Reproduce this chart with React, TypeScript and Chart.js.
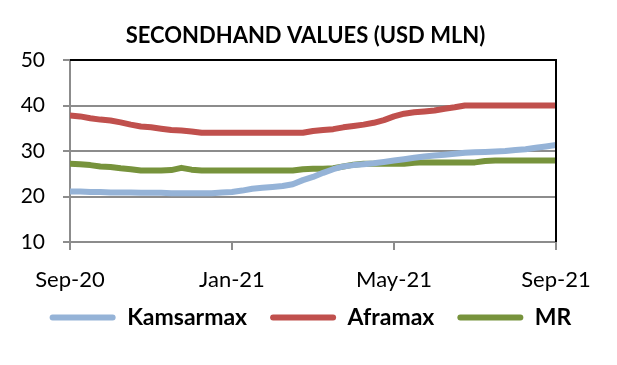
import React, { useEffect, useRef } from "react";
import { Chart, registerables } from "chart.js";

Chart.register(...registerables);

const xTickLabels = ["Sep-20", "Jan-21", "May-21", "Sep-21"];

const kamsarmax = [
  21.1, 21.1, 21.0, 21.0, 20.9, 20.9, 20.9, 20.8, 20.8, 20.8, 20.7, 20.7, 20.7,
  20.7, 20.7, 20.9, 21.0, 21.3, 21.7, 21.9, 22.1, 22.3, 22.7, 23.6, 24.3, 25.2,
  26.0, 26.6, 26.9, 27.1, 27.3, 27.6, 27.9, 28.2, 28.5, 28.8, 29.0, 29.2, 29.4,
  29.6, 29.7, 29.8, 29.9, 30.0, 30.2, 30.4, 30.7, 31.0, 31.3,
];

const aframax = [
  37.8, 37.6, 37.2, 36.9, 36.7, 36.3, 35.8, 35.4, 35.2, 34.9, 34.6, 34.5, 34.3,
  34.0, 34.0, 34.0, 34.0, 34.0, 34.0, 34.0, 34.0, 34.0, 34.0, 34.0, 34.4, 34.6,
  34.8, 35.2, 35.5, 35.8, 36.2, 36.8, 37.6, 38.2, 38.5, 38.7, 38.9, 39.3, 39.6,
  40.0, 40.0, 40.0, 40.0, 40.0, 40.0, 40.0, 40.0, 40.0, 40.0,
];

const mr = [
  27.2, 27.1, 26.9, 26.6, 26.5, 26.2, 26.0, 25.7, 25.7, 25.7, 25.8, 26.3, 25.9,
  25.7, 25.7, 25.7, 25.7, 25.7, 25.7, 25.7, 25.7, 25.7, 25.7, 26.0, 26.1, 26.1,
  26.2, 26.6, 27.0, 27.2, 27.2, 27.2, 27.2, 27.2, 27.4, 27.5, 27.5, 27.5, 27.5,
  27.5, 27.5, 27.8, 27.9, 27.9, 27.9, 27.9, 27.9, 27.9, 27.9,
];

const seriesNames = ["Kamsarmax", "Aframax", "MR"];
const seriesColors = ["#95B3D7", "#C0504D", "#77933C"];

const FONT = "Lato, 'Open Sans', sans-serif";

const frameBorder = {
  id: "frameBorder",
  afterDatasetsDraw(chart: any) {
    const { ctx, chartArea } = chart;
    ctx.save();
    ctx.strokeStyle = "#000000";
    ctx.lineWidth = 2;
    ctx.beginPath();
    ctx.moveTo(chartArea.left, chartArea.top);
    ctx.lineTo(chartArea.right, chartArea.top);
    ctx.lineTo(chartArea.right, chartArea.bottom);
    ctx.stroke();
    ctx.restore();
  },
};

// nudge the legend box closer to the axis labels, as in the reference
const legendNudge = {
  id: "legendNudge",
  afterLayout(chart: any) {
    const lg = chart.legend;
    if (!lg) return;
    lg.top -= 14;
    lg.bottom -= 14;
    lg.left += 5;
    lg.right += 5;
  },
};

export default function App() {
  const ref = useRef<HTMLCanvasElement>(null);

  useEffect(() => {
    document.body.style.margin = "0";
    const toPts = (arr: number[]) => arr.map((y, i) => ({ x: i, y }));
    const data = [kamsarmax, aframax, mr];
    const chart = new Chart(ref.current as HTMLCanvasElement, {
      type: "line",
      data: {
        datasets: data.map((d, k) => ({
          label: seriesNames[k],
          data: toPts(d),
          borderColor: seriesColors[k],
          backgroundColor: seriesColors[k],
          borderWidth: 6,
          pointRadius: 0,
          tension: 0,
          borderCapStyle: "butt",
          borderJoinStyle: "round",
          yAxisID: "y",
        })),
      },
      options: {
        animation: false,
        responsive: false,
        layout: { padding: { left: 0, right: 6, top: 0, bottom: 12 } },
        plugins: {
          title: {
            display: true,
            text: "SECONDHAND VALUES (USD MLN)",
            color: "#000",
            font: { family: FONT, size: 22, weight: "bold" },
            padding: { top: 23, bottom: 10.6 },
          },
          legend: {
            display: true,
            position: "bottom",
            labels: {
              color: "#000",
              font: { family: FONT, size: 23, weight: "bold" },
              boxWidth: 66,
              boxHeight: 6,
              useBorderRadius: true,
              borderRadius: 3,
              padding: 23,
              generateLabels(chart: any) {
                const items = Chart.defaults.plugins.legend.labels.generateLabels(chart);
                return items.map((it: any) => ({ ...it, lineWidth: 0 }));
              },
            },
          },
          tooltip: { enabled: false },
        },
        scales: {
          x: {
            type: "linear",
            min: 0,
            max: 48,
            afterFit(scale: any) {
              scale.height = 55;
            },
            ticks: {
              stepSize: 16,
              color: "#000",
              font: { family: FONT, size: 22 },
              padding: 17,
              maxRotation: 0,
              callback: (v: any) => xTickLabels[Math.round(Number(v) / 16)],
            },
            grid: {
              drawOnChartArea: false,
              drawTicks: true,
              tickLength: 8,
              color: "#8c8c8c",
              lineWidth: 2,
            },
            border: { display: true, color: "#8c8c8c", width: 2 },
          },
          y: {
            min: 10,
            max: 50,
            afterFit(scale: any) {
              scale.width = 70;
            },
            ticks: {
              stepSize: 10,
              color: "#000",
              font: { family: FONT, size: 21 },
              padding: 18,
            },
            grid: {
              color: "#8c8c8c",
              lineWidth: 2,
              tickLength: 7,
            },
            border: { display: true, color: "#8c8c8c", width: 2 },
          },
          ySpacer: {
            position: "right",
            min: 10,
            max: 50,
            afterFit(scale: any) {
              scale.width = 55;
            },
            ticks: { display: false },
            grid: { display: false, drawOnChartArea: false },
            border: { display: false },
          },
        },
      },
      plugins: [frameBorder, legendNudge],
    } as any);
    return () => chart.destroy();
  }, []);

  return (
    <div style={{ width: 617, height: 365, background: "#fff" }}>
      <canvas ref={ref} width={617} height={365} />
    </div>
  );
}
